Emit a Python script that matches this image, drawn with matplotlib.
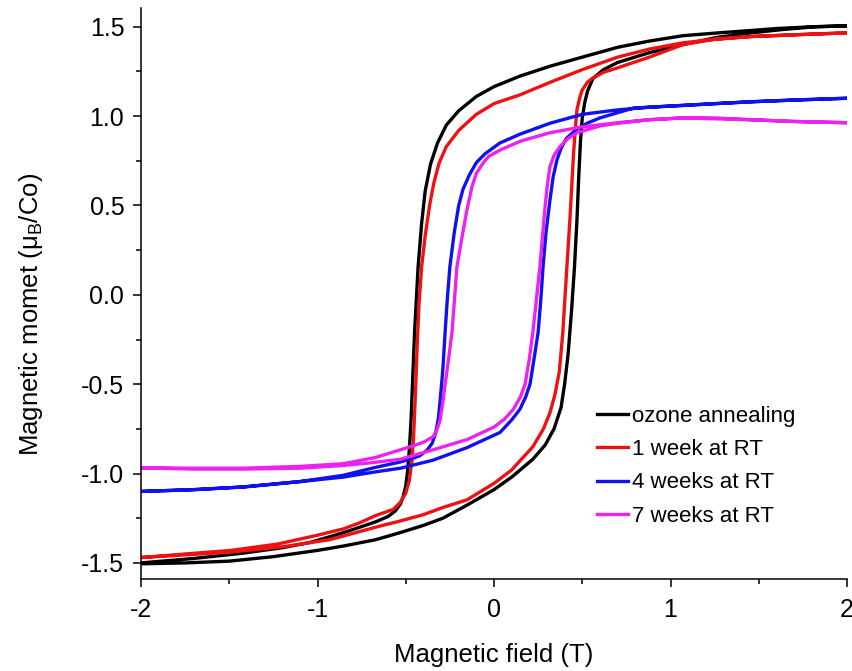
import numpy as np
import matplotlib
matplotlib.use('Agg')
import matplotlib.pyplot as plt
from matplotlib.ticker import MultipleLocator, FormatStrFormatter

plt.rcParams['font.family'] = ['Liberation Sans', 'DejaVu Sans']
plt.rcParams['axes.unicode_minus'] = False

# hysteresis loops: field (T) and moment (muB/Co)
# upper branch = field sweeping down from +2 T, lower branch = sweeping up from -2 T
ozone_up_H = [2.0, 1.8, 1.6, 1.4, 1.26, 1.07, 0.88, 0.70, 0.50, 0.32, 0.15, 0.0, -0.1, -0.2, -0.27,
              -0.32, -0.36, -0.39, -0.41, -0.43, -0.45, -0.46, -0.47, -0.48, -0.49, -0.50, -0.515,
              -0.53, -0.56, -0.60, -0.67, -0.76, -0.85, -1.04, -1.2, -1.42, -1.7, -2.0]
ozone_up_M = [1.505, 1.50, 1.49, 1.475, 1.465, 1.45, 1.42, 1.385, 1.33, 1.28, 1.225, 1.165, 1.11,
              1.03, 0.95, 0.85, 0.73, 0.58, 0.40, 0.157, -0.21, -0.45, -0.70, -0.87, -0.99, -1.07,
              -1.13, -1.17, -1.21, -1.24, -1.27, -1.30, -1.33, -1.385, -1.415, -1.445, -1.475, -1.5]
ozone_dn_H = [-2.0, -1.75, -1.5, -1.25, -1.0, -0.85, -0.67, -0.53, -0.40, -0.29, -0.15, 0.0, 0.1,
              0.22, 0.29, 0.34, 0.38, 0.40, 0.42, 0.44, 0.456, 0.47, 0.48, 0.49, 0.50, 0.515, 0.53,
              0.56, 0.62, 0.70, 0.88, 1.07, 1.26, 1.45, 1.64, 1.82, 2.0]
ozone_dn_M = [-1.505, -1.50, -1.49, -1.465, -1.43, -1.405, -1.37, -1.33, -1.29, -1.25, -1.175,
              -1.09, -1.02, -0.92, -0.84, -0.75, -0.63, -0.50, -0.33, -0.08, 0.157, 0.42, 0.66,
              0.86, 0.99, 1.08, 1.14, 1.21, 1.26, 1.30, 1.355, 1.40, 1.44, 1.465, 1.485, 1.50, 1.505]

week1_up_H = [2.0, 1.7, 1.45, 1.25, 1.07, 0.88, 0.70, 0.50, 0.32, 0.15, 0.0, -0.1, -0.2, -0.27,
              -0.31, -0.34, -0.365, -0.39, -0.41, -0.425, -0.436, -0.445, -0.455, -0.465, -0.48,
              -0.50, -0.53, -0.57, -0.67, -0.76, -0.855, -1.0, -1.23, -1.49, -1.75, -2.0]
week1_up_M = [1.466, 1.455, 1.445, 1.43, 1.41, 1.375, 1.33, 1.26, 1.19, 1.12, 1.07, 1.01, 0.92,
              0.83, 0.74, 0.63, 0.50, 0.33, 0.157, -0.05, -0.30, -0.55, -0.78, -0.93, -1.04, -1.11,
              -1.16, -1.20, -1.235, -1.275, -1.31, -1.345, -1.395, -1.43, -1.45, -1.47]
week1_dn_H = [-2.0, -1.75, -1.5, -1.2, -0.93, -0.8, -0.67, -0.53, -0.40, -0.29, -0.153, 0.0, 0.1,
              0.22, 0.28, 0.317, 0.345, 0.37, 0.39, 0.413, 0.43, 0.44, 0.45, 0.46, 0.47, 0.485,
              0.50, 0.53, 0.555, 0.62, 0.70, 0.88, 1.07, 1.25, 1.45, 1.7, 2.0]
week1_dn_M = [-1.47, -1.455, -1.44, -1.41, -1.37, -1.335, -1.30, -1.265, -1.23, -1.19, -1.147,
              -1.055, -0.98, -0.85, -0.75, -0.66, -0.56, -0.43, -0.21, 0.157, 0.42, 0.60, 0.78,
              0.92, 1.035, 1.10, 1.147, 1.19, 1.21, 1.245, 1.27, 1.33, 1.40, 1.43, 1.445, 1.455, 1.466]

week4_up_H = [2.0, 1.7, 1.45, 1.25, 1.07, 0.88, 0.70, 0.50, 0.317, 0.15, 0.034, -0.05, -0.1, -0.14,
              -0.176, -0.2, -0.225, -0.25, -0.265, -0.277, -0.29, -0.305, -0.315, -0.33, -0.35,
              -0.38, -0.42, -0.46, -0.53, -0.67, -0.855, -1.1, -1.42, -1.7, -2.0]
week4_up_M = [1.10, 1.09, 1.08, 1.07, 1.06, 1.05, 1.035, 1.01, 0.96, 0.90, 0.85, 0.79, 0.74, 0.67,
              0.59, 0.50, 0.35, 0.157, -0.03, -0.21, -0.42, -0.59, -0.69, -0.77, -0.83, -0.87,
              -0.90, -0.915, -0.935, -0.965, -1.01, -1.045, -1.075, -1.09, -1.10]
week4_dn_H = [-2.0, -1.7, -1.42, -1.1, -0.855, -0.7, -0.53, -0.345, -0.153, 0.034, 0.1, 0.147,
              0.18, 0.204, 0.225, 0.25, 0.265, 0.278, 0.295, 0.317, 0.335, 0.357, 0.38, 0.41, 0.46,
              0.527, 0.60, 0.79, 1.07, 1.45, 1.7, 2.0]
week4_dn_M = [-1.10, -1.09, -1.075, -1.045, -1.02, -0.995, -0.97, -0.925, -0.855, -0.77, -0.70,
              -0.64, -0.57, -0.50, -0.37, -0.21, -0.03, 0.157, 0.35, 0.53, 0.66, 0.756, 0.82,
              0.875, 0.92, 0.96, 0.99, 1.045, 1.06, 1.08, 1.09, 1.10]

week7_up_H = [2.0, 1.7, 1.45, 1.25, 1.07, 0.88, 0.70, 0.50, 0.317, 0.15, 0.034, -0.03, -0.06, -0.1,
              -0.125, -0.153, -0.18, -0.21, -0.238, -0.26, -0.277, -0.29, -0.305, -0.325, -0.345,
              -0.4, -0.46, -0.53, -0.67, -0.855, -1.1, -1.42, -1.7, -2.0]
week7_up_M = [0.963, 0.97, 0.98, 0.985, 0.99, 0.98, 0.963, 0.94, 0.907, 0.86, 0.81, 0.775, 0.74,
              0.68, 0.605, 0.476, 0.33, 0.157, -0.21, -0.38, -0.50, -0.60, -0.70, -0.76, -0.794,
              -0.825, -0.845, -0.867, -0.91, -0.945, -0.96, -0.97, -0.97, -0.968]
week7_dn_H = [-2.0, -1.7, -1.42, -1.1, -0.855, -0.7, -0.53, -0.345, -0.153, 0.0, 0.06, 0.11, 0.15,
              0.176, 0.2, 0.22, 0.24, 0.26, 0.275, 0.29, 0.303, 0.317, 0.34, 0.374, 0.42, 0.47,
              0.60, 0.70, 0.88, 1.07, 1.25, 1.45, 1.7, 2.0]
week7_dn_M = [-0.968, -0.975, -0.975, -0.97, -0.955, -0.94, -0.92, -0.867, -0.81, -0.74, -0.695,
              -0.64, -0.57, -0.50, -0.36, -0.21, -0.03, 0.157, 0.33, 0.50, 0.62, 0.717, 0.78, 0.83,
              0.875, 0.907, 0.945, 0.96, 0.98, 0.99, 0.99, 0.98, 0.97, 0.963]

labels = ['ozone annealing', '1 week at RT', '4 weeks at RT', '7 weeks at RT']
colors = ['#000000', '#ee1111', '#1111ee', '#ee22ee']
loops = [(ozone_up_H, ozone_up_M, ozone_dn_H, ozone_dn_M),
         (week1_up_H, week1_up_M, week1_dn_H, week1_dn_M),
         (week4_up_H, week4_up_M, week4_dn_H, week4_dn_M),
         (week7_up_H, week7_up_M, week7_dn_H, week7_dn_M)]

fig = plt.figure(figsize=(8.52, 6.71), dpi=100)
ax = fig.add_axes([141 / 852, 1 - 579 / 671, (847 - 141) / 852, (579 - 8) / 671])

for (uh, um, dh, dm), c, lab in zip(loops, colors, labels):
    H = np.concatenate([uh, dh])
    M = np.concatenate([um, dm])
    ax.plot(H, M, color=c, lw=2.4, label=lab, solid_joinstyle='round')

ax.set_xlim(-2, 2)
ax.set_ylim(-1.59, 1.605)
ax.xaxis.set_major_locator(MultipleLocator(1))
ax.xaxis.set_minor_locator(MultipleLocator(0.5))
ax.yaxis.set_major_locator(MultipleLocator(0.5))
ax.yaxis.set_minor_locator(MultipleLocator(0.25))
ax.yaxis.set_major_formatter(FormatStrFormatter('%.1f'))

ax.tick_params(which='major', direction='out', length=6, width=1.1, labelsize=18)
ax.tick_params(which='minor', direction='out', length=3.5, width=1.1)
ax.tick_params(axis='x', pad=8)
ax.tick_params(axis='y', pad=6)
for s in ['top', 'right']:
    ax.spines[s].set_visible(False)
for s in ['left', 'bottom']:
    ax.spines[s].set_linewidth(1.1)

ax.set_xlabel('Magnetic field (T)', fontsize=18.5)
ax.set_ylabel('Magnetic momet (μ$_\\mathregular{B}$/Co)', fontsize=18.5)
ax.xaxis.set_label_coords(0.5, (579 - 655) / 571, transform=ax.transAxes)
ax.yaxis.set_label_coords((31 - 141) / 706, (579 - 314) / 571, transform=ax.transAxes)
ax.xaxis.label.set_va('center')
ax.yaxis.label.set_va('center')

ax.legend(loc='upper left', bbox_to_anchor=(0.646, 0.303), frameon=False, fontsize=16,
          handlelength=1.4, handletextpad=0.15, labelspacing=0.55, borderpad=0, borderaxespad=0)

fig.savefig('out.png', dpi=100)
